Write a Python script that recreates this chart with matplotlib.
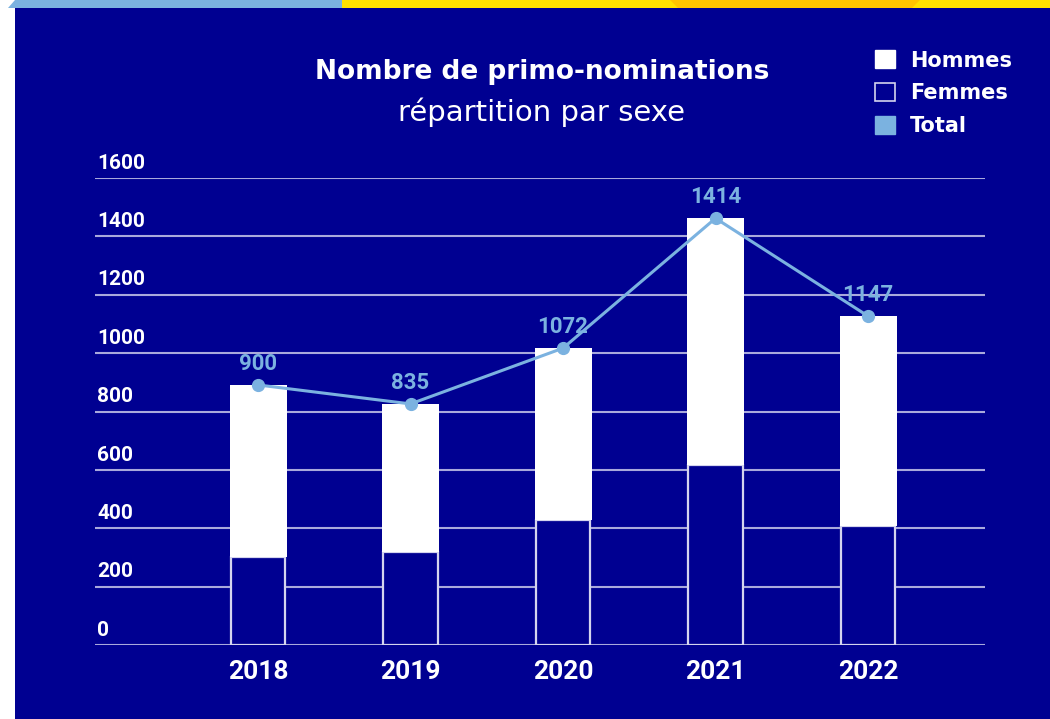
import matplotlib.pyplot as plt
from matplotlib.patches import Rectangle, Patch, Polygon

# values
years = ["2018", "2019", "2020", "2021", "2022"]
femmes = [302, 318, 428, 617, 408]
hommes = [589, 508, 589, 845, 719]
total_labels = [900, 835, 1072, 1414, 1147]
yticks = [0, 200, 400, 600, 800, 1000, 1200, 1400, 1600]

NAVY = "#000091"
LIGHT = "#7BB2E0"
GRID = "#a9a9dc"

plt.rcParams['font.family'] = ['Roboto', 'DejaVu Sans']
WIDE = ['DejaVu Sans']

W, H = 1050, 719
fig = plt.figure(figsize=(W / 100, H / 100), dpi=100)
fig.patch.set_facecolor(NAVY)

# decorative bands (top strip and white left edge)
def px_rect(x0, y0, x1, y1, color):
    fig.add_artist(Rectangle((x0 / W, 1 - y1 / H), (x1 - x0) / W, (y1 - y0) / H,
                             transform=fig.transFigure, color=color, lw=0, zorder=0))

px_rect(0, 0, 15, H, "white")
px_rect(0, 0, W, 8, "white")
fig.add_artist(Polygon([(8 / W, 1 - 8 / H), (15 / W, 1), (342 / W, 1), (342 / W, 1 - 8 / H)],
                       transform=fig.transFigure, color=LIGHT, lw=0, zorder=0))
px_rect(342, 0, W, 8, "#FFE100")
fig.add_artist(Polygon([(670 / W, 1), (920 / W, 1), (912 / W, 1 - 8 / H), (678 / W, 1 - 8 / H)],
                       transform=fig.transFigure, color="#FFC400", lw=0, zorder=0))

# axes placed so that 0 -> y=645px, 1600 -> y=178px, x centres 258..868px
x0_px, x1_px = 95, 985
c0, step = 258, 152.5
ax = fig.add_axes([x0_px / W, (H - 645) / H, (x1_px - x0_px) / W, (645 - 178) / H])
ax.set_facecolor(NAVY)
ax.set_xlim((x0_px - c0) / step, (x1_px - c0) / step)
ax.set_ylim(0, 1600)

x = list(range(len(years)))
width = 57 / step
tops = [f + h for f, h in zip(femmes, hommes)]

ax.bar(x, femmes, width=width * 0.95, color=NAVY, edgecolor="#d4d4ee", linewidth=1.6, zorder=3)
ax.bar(x, hommes, bottom=femmes, width=width, color="white", linewidth=0, zorder=3)

ax.plot(x, tops, color=LIGHT, lw=2.2, marker="o", markersize=8.5, zorder=5)
for xi, yi, lab in zip(x, tops, total_labels):
    ax.annotate(str(lab), (xi, yi), xytext=(0, 15), textcoords="offset points",
                ha="center", va="center", color=LIGHT, fontsize=16, fontweight="bold", zorder=6)

ax.set_yticks(yticks)
ax.set_yticklabels([])
ax.grid(axis="y", color=GRID, lw=1.5, zorder=1)
ax.set_axisbelow(True)
ax.tick_params(axis="both", length=0)
for s in ax.spines.values():
    s.set_visible(False)
for t in yticks:
    ax.text((97 - x0_px) / (x1_px - x0_px), t + 18, str(t), transform=ax.get_yaxis_transform(),
            ha="left", va="bottom", color="white", fontsize=15, fontweight="bold")

ax.set_xticks(x)
ax.set_xticklabels(years, color="white", fontsize=19, fontweight="bold")
ax.tick_params(axis="x", pad=11)

fig.text(542 / W, 1 - 72 / H, "Nombre de primo-nominations", ha="center", va="center",
         color="white", fontsize=19, fontweight="bold", family=WIDE)
fig.text(542 / W, 1 - 112 / H, "répartition par sexe", ha="center", va="center",
         color="white", fontsize=21, family=WIDE)

handles = [Patch(facecolor="white", edgecolor="white"),
           Patch(facecolor=NAVY, edgecolor="#d4d4ee", linewidth=1.2),
           Patch(facecolor=LIGHT, edgecolor=LIGHT)]
fig.legend(handles, ["Hommes", "Femmes", "Total"], loc="upper left",
           bbox_to_anchor=(865 / W, 1 - 40 / H), frameon=False, handlelength=0.95,
           handleheight=0.95, handletextpad=0.7, labelspacing=0.6, borderpad=0,
           prop={"size": 15, "weight": "bold", "family": WIDE}, labelcolor="white")

fig.savefig("out.png", dpi=100, facecolor=fig.get_facecolor())
